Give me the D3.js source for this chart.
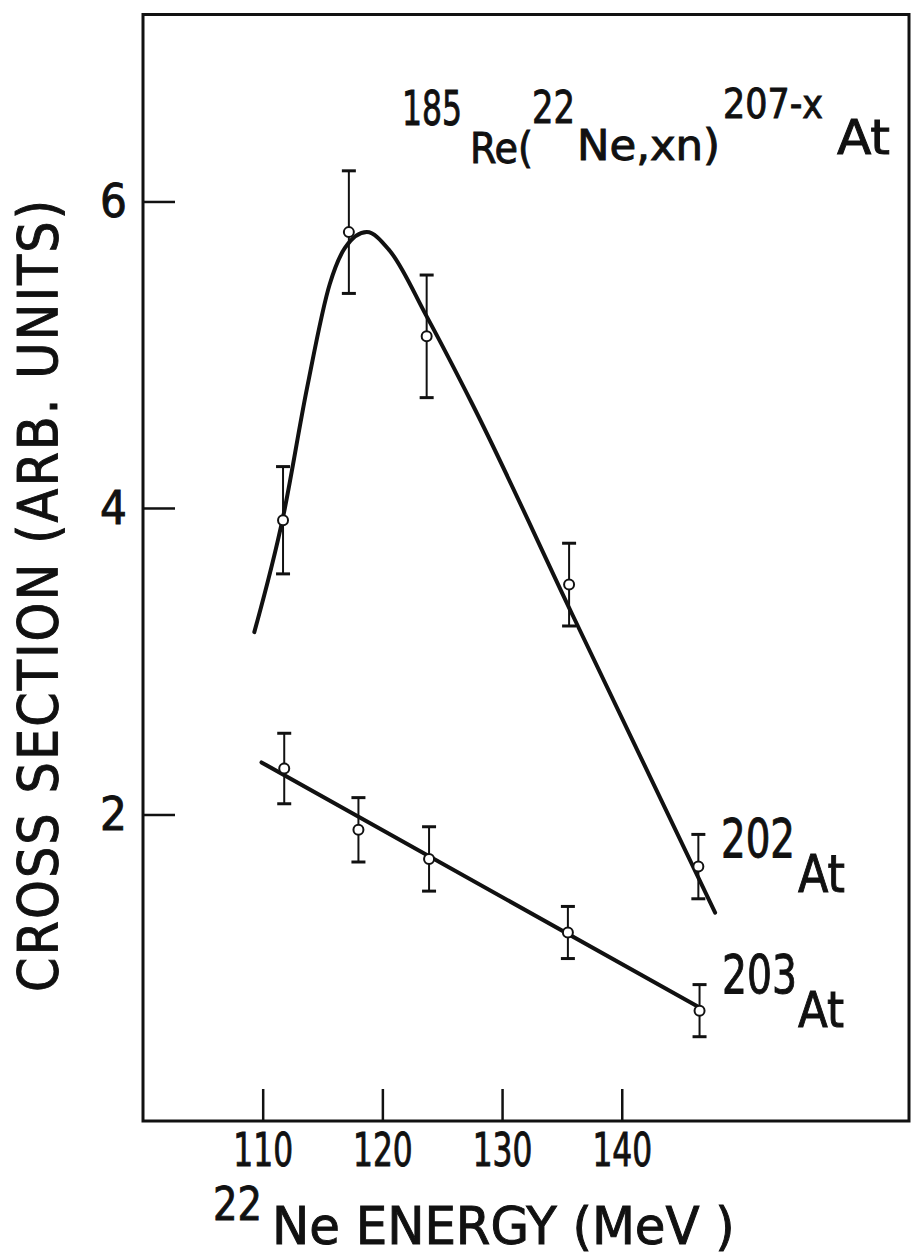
<!DOCTYPE html>
<html>
<head>
<meta charset="utf-8">
<script src="https://cdn.jsdelivr.net/npm/d3@7"></script>
<style>
  body { margin: 0; background: #fff; }
  svg text { font-family: "DejaVu Sans Condensed", "DejaVu Sans", sans-serif; fill: #111; stroke: #111; stroke-width: 0.9px; }
</style>
</head>
<body>
<div id="chart"></div>
<script>
// 202At measured points (energy MeV, cross section, error)
const energy202 = [111.7, 117.2, 123.7, 135.6, 146.4];
const sigma202 = [3.92, 5.80, 5.12, 3.50, 1.66];
const err202 = [0.35, 0.40, 0.40, 0.27, 0.21];

// 203At measured points
const energy203 = [111.8, 118.0, 123.9, 135.5, 146.5];
const sigma203 = [2.30, 1.90, 1.71, 1.23, 0.72];
const err203 = [0.23, 0.21, 0.21, 0.17, 0.17];

// hand drawn curves through the points
const fitEnergy202 = [109.3, 111.7, 113.7, 115.6, 116.9, 118.7, 120.6, 123.7, 127.5, 135.9, 147.8];
const fitSigma202 = [3.19, 3.94, 4.78, 5.46, 5.70, 5.80, 5.68, 5.25, 4.68, 3.30, 1.36];
const fitEnergy203 = [109.9, 146.5];
const fitSigma203 = [2.34, 0.74];

const xTicks = [110, 120, 130, 140];
const yTicks = [2, 4, 6];

const width = 918, height = 1257;
const plotLeft = 143, plotRight = 909, plotTop = 14.5, plotBottom = 1121;

const svg = d3.select('#chart').append('svg')
  .attr('width', width)
  .attr('height', height);

const x = d3.scaleLinear().domain([100, 164]).range([plotLeft, plotRight]);
const y = d3.scaleLinear().domain([0, 7.22]).range([plotBottom, plotTop]);

// frame
svg.append('rect')
  .attr('x', plotLeft).attr('y', plotTop)
  .attr('width', plotRight - plotLeft).attr('height', plotBottom - plotTop)
  .attr('fill', 'none').attr('stroke', '#111').attr('stroke-width', 3);

// axes with inward ticks
const xAxis = svg.append('g')
  .attr('transform', `translate(0,${plotBottom})`)
  .call(d3.axisBottom(x).tickValues(xTicks).tickSize(-32).tickPadding(12));
const yAxis = svg.append('g')
  .attr('transform', `translate(${plotLeft},0)`)
  .call(d3.axisLeft(y).tickValues(yTicks).tickSize(-32).tickPadding(16));

[xAxis, yAxis].forEach(g => {
  g.select('.domain').remove();
  g.attr('font-family', null).attr('font-size', null);
  g.selectAll('.tick line').attr('stroke', '#111').attr('stroke-width', 2.5);
  g.selectAll('.tick text').attr('fill', '#111').style('font-size', '47px');
});

// squeeze tick labels horizontally, the lettering is narrower than the font
xAxis.selectAll('.tick text').each(function() {
  const w = this.getComputedTextLength();
  d3.select(this).attr('textLength', w * 0.74).attr('lengthAdjust', 'spacingAndGlyphs');
});

// fitted curves
const line202 = d3.line().x(d => x(d[0])).y(d => y(d[1])).curve(d3.curveMonotoneX);
const line203 = d3.line().x(d => x(d[0])).y(d => y(d[1]));

svg.append('path')
  .datum(d3.zip(fitEnergy202, fitSigma202))
  .attr('d', line202)
  .attr('fill', 'none').attr('stroke', '#111').attr('stroke-width', 4).attr('stroke-linecap', 'round');

svg.append('path')
  .datum(d3.zip(fitEnergy203, fitSigma203))
  .attr('d', line203)
  .attr('fill', 'none').attr('stroke', '#111').attr('stroke-width', 4).attr('stroke-linecap', 'round');

// error bars and open circles
function drawPoints(energies, sigmas, errs) {
  const pts = energies.map((e, i) => ({ e: e, s: sigmas[i], err: errs[i] }));
  const g = svg.append('g');
  const bars = g.selectAll('.bar').data(pts).enter().append('g').attr('class', 'bar');
  bars.append('line')
    .attr('x1', d => x(d.e)).attr('x2', d => x(d.e))
    .attr('y1', d => y(d.s + d.err)).attr('y2', d => y(d.s - d.err))
    .attr('stroke', '#111').attr('stroke-width', 2);
  [1, -1].forEach(k => {
    bars.append('line')
      .attr('x1', d => x(d.e) - 7).attr('x2', d => x(d.e) + 7)
      .attr('y1', d => y(d.s + k * d.err)).attr('y2', d => y(d.s + k * d.err))
      .attr('stroke', '#111').attr('stroke-width', 3);
  });
  g.selectAll('circle').data(pts).enter().append('circle')
    .attr('cx', d => x(d.e)).attr('cy', d => y(d.s))
    .attr('r', 5)
    .attr('fill', '#fff').attr('stroke', '#111').attr('stroke-width', 2);
}
drawPoints(energy202, sigma202, err202);
drawPoints(energy203, sigma203, err203);

// place a text piece, scaled sideways to a given width
function put(str, px, py, size, len) {
  const t = svg.append('text').style('font-size', size + 'px').text(str);
  const k = len ? len / t.node().getComputedTextLength() : 1;
  t.attr('transform', `translate(${px},${py}) scale(${k},1)`);
  return t;
}

// reaction label
put('185', 402, 125, 48, 60);
put('Re(', 470, 163, 43, 63);
put('22', 532, 123, 45, 43);
put('Ne,xn)', 577, 160, 43, 143);
put('207-x', 723, 118, 41, 100);
put('At', 837, 154, 48, 53);

// isotope labels
put('202', 721, 857, 53, 74);
put('At', 798, 892, 51, 47);
put('203', 722, 993, 53, 75);
put('At', 798, 1027, 50, 46);

// x axis title
put('22', 213, 1220, 47, 49);
put('Ne ENERGY (MeV )', 272, 1244, 52, 463);

// y axis title
svg.append('text')
  .attr('transform', 'translate(57,596) rotate(-90)')
  .attr('text-anchor', 'middle')
  .style('font-size', '55px')
  .attr('textLength', 792).attr('lengthAdjust', 'spacing')
  .text('CROSS SECTION (ARB. UNITS)');
</script>
</body>
</html>
